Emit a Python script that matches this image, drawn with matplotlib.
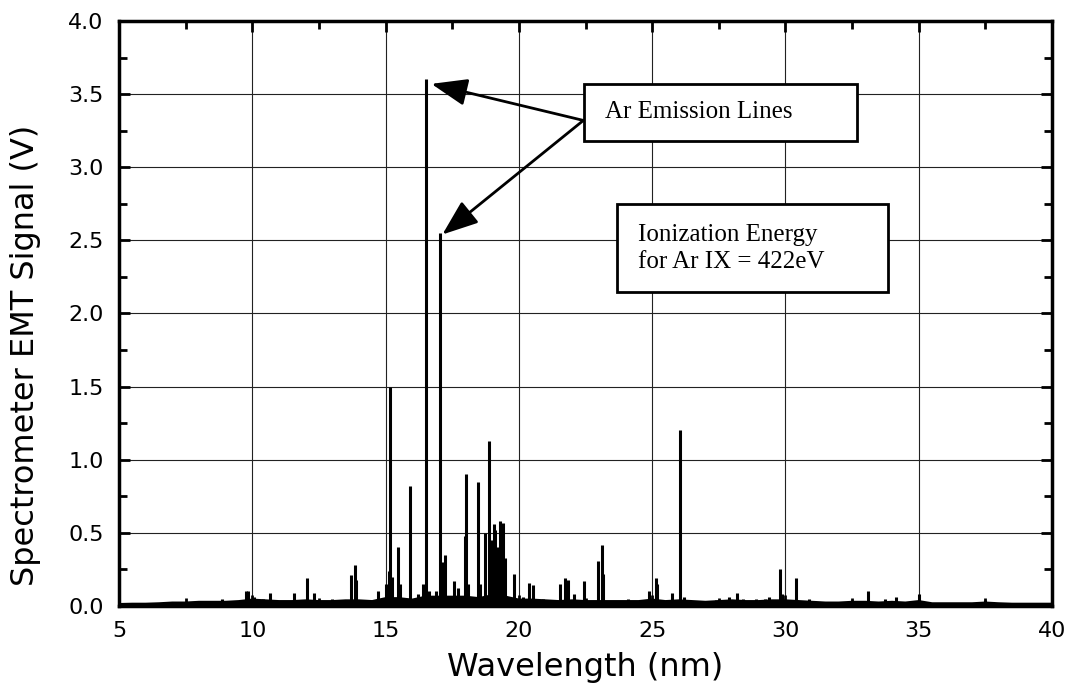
import matplotlib
matplotlib.use("Agg")
import matplotlib.pyplot as plt
from matplotlib.patches import Rectangle
from matplotlib.ticker import MultipleLocator

# ---- data ----
peak_nm = [8.85, 9.75, 9.85, 10.05, 10.4, 10.66, 11.55, 12.04, 12.3, 13.0,
           13.7, 13.84, 13.9, 14.7, 15.03, 15.12, 15.18, 15.25, 15.46, 15.55,
           15.90, 16.2, 16.4, 16.53, 16.62, 16.9, 17.03, 17.12, 17.22, 17.57,
           17.7, 17.97, 18.03, 18.1, 18.45, 18.55, 18.72, 18.88, 18.95, 19.08,
           19.12, 19.2, 19.29, 19.41, 19.47, 19.81, 20.15, 20.38, 20.54, 20.9,
           21.55, 21.73, 21.86, 22.07, 22.45, 22.96, 23.10, 23.16, 24.1, 24.9,
           25.13, 25.2, 25.75, 26.06, 26.2, 27.4, 27.9, 28.2, 28.4, 28.9,
           29.25, 29.4, 29.78, 29.87, 30.41, 30.87, 31.8, 32.5, 33.1, 33.75,
           34.16, 35.0, 36.1, 37.5, 37.8]
peak_v = [0.05, 0.10, 0.10, 0.06, 0.05, 0.09, 0.09, 0.19, 0.09, 0.05,
          0.21, 0.28, 0.18, 0.10, 0.15, 0.24, 1.50, 0.20, 0.40, 0.15,
          0.82, 0.08, 0.15, 3.60, 0.10, 0.10, 2.55, 0.30, 0.35, 0.17,
          0.12, 0.48, 0.90, 0.15, 0.85, 0.15, 0.50, 1.13, 0.45, 0.56,
          0.52, 0.40, 0.58, 0.57, 0.33, 0.22, 0.06, 0.16, 0.14, 0.05,
          0.15, 0.19, 0.18, 0.08, 0.17, 0.31, 0.42, 0.22, 0.05, 0.10,
          0.19, 0.15, 0.09, 1.20, 0.06, 0.04, 0.06, 0.09, 0.05, 0.05,
          0.05, 0.06, 0.25, 0.08, 0.19, 0.05, 0.03, 0.04, 0.10, 0.05,
          0.06, 0.08, 0.02, 0.04, 0.03]

base_nm = [5.0, 5.5, 6.0, 6.5, 7.0, 7.5, 8.0, 8.5, 9.0, 9.5, 10.0, 10.5, 11.0,
           11.5, 12.0, 12.5, 13.0, 13.5, 14.0, 14.5, 15.0, 15.5, 16.0, 16.5,
           17.0, 17.5, 18.0, 18.5, 19.0, 19.5, 20.0, 20.5, 21.0, 21.5, 22.0,
           22.5, 23.0, 23.5, 24.0, 24.5, 25.0, 25.5, 26.0, 26.5, 27.0, 27.5,
           28.0, 28.5, 29.0, 29.5, 30.0, 30.5, 31.0, 31.5, 32.0, 32.5, 33.0,
           33.5, 34.0, 34.5, 35.0, 35.5, 36.0, 36.5, 37.0, 37.5, 38.0, 38.5,
           39.0, 39.5, 40.0]
base_v = [0.010, 0.012, 0.012, 0.015, 0.020, 0.020, 0.025, 0.025, 0.025, 0.030,
          0.040, 0.035, 0.030, 0.030, 0.035, 0.030, 0.030, 0.035, 0.035, 0.030,
          0.050, 0.050, 0.040, 0.060, 0.060, 0.060, 0.060, 0.050, 0.070, 0.060,
          0.040, 0.040, 0.035, 0.030, 0.035, 0.030, 0.030, 0.030, 0.030, 0.030,
          0.040, 0.030, 0.035, 0.030, 0.025, 0.030, 0.035, 0.030, 0.030, 0.035,
          0.035, 0.030, 0.025, 0.020, 0.020, 0.025, 0.025, 0.020, 0.025, 0.020,
          0.030, 0.015, 0.015, 0.015, 0.015, 0.020, 0.015, 0.012, 0.012, 0.012,
          0.012]

x_ticks = [5, 10, 15, 20, 25, 30, 35, 40]
y_ticks = [0.0, 0.5, 1.0, 1.5, 2.0, 2.5, 3.0, 3.5, 4.0]

label_lines = "Ar Emission Lines"
label_ion = "Ionization Energy\nfor Ar IX = 422eV"
arrow_tips = [(16.72, 3.57), (17.13, 2.54)]
arrow_origin = (22.42, 3.32)

# ---- figure ----
fig = plt.figure(figsize=(10.78, 6.97), dpi=100)
ax = fig.add_axes([0.1104, 0.1306, 0.8655, 0.8393])

ax.set_xlim(5, 40)
ax.set_ylim(0, 4.0)

ax.grid(True, which="major", color="#222222", lw=0.8, zorder=0)
ax.set_axisbelow(True)

ax.fill_between(base_nm, 0, base_v, color="black", lw=1.5, zorder=2)
ax.plot(base_nm, base_v, color="black", lw=2.2, zorder=2)
ax.vlines(peak_nm, 0, peak_v, color="black", lw=2.2, zorder=3)

ax.set_xticks(x_ticks)
ax.set_yticks(y_ticks)
ax.set_xticklabels([str(v) for v in x_ticks])
ax.set_yticklabels([f"{v:.1f}" for v in y_ticks])
ax.xaxis.set_minor_locator(MultipleLocator(2.5))
ax.yaxis.set_minor_locator(MultipleLocator(0.25))
ax.tick_params(which="both", direction="in", top=True, right=True, width=2,
               color="black")
ax.tick_params(which="major", length=8, pad=11, labelsize=16)
ax.tick_params(which="minor", length=6)
for lbl in ax.get_xticklabels() + ax.get_yticklabels():
    lbl.set_family("DejaVu Sans")
for s in ax.spines.values():
    s.set_linewidth(2.5)

ax.set_xlabel("Wavelength (nm)", fontsize=23, family="DejaVu Sans", labelpad=8)
fig.text(0.024, 0.49, "Spectrometer EMT Signal (V)", rotation=90,
         fontsize=23, family="DejaVu Sans", ha="center", va="center")

# annotation boxes
ax.add_patch(Rectangle((22.44, 3.18), 32.68 - 22.44, 3.57 - 3.18,
                       facecolor="white", edgecolor="black", lw=2, zorder=5))
ax.text(23.23, 3.375, label_lines, family="Liberation Serif", fontsize=18,
        ha="left", va="center", zorder=6)
ax.add_patch(Rectangle((23.67, 2.15), 33.84 - 23.67, 2.75 - 2.15,
                       facecolor="white", edgecolor="black", lw=2, zorder=5))
ax.text(24.47, 2.445, label_ion, family="Liberation Serif", fontsize=18,
        ha="left", va="center", linespacing=1.3, zorder=6)

for tip in arrow_tips:
    ax.annotate("", xy=tip, xytext=arrow_origin,
                arrowprops=dict(arrowstyle="-|>,head_length=1.0,head_width=0.38",
                                mutation_scale=22, lw=2, color="black",
                                shrinkA=0, shrinkB=0), zorder=7)

fig.savefig("out.png", dpi=100)
